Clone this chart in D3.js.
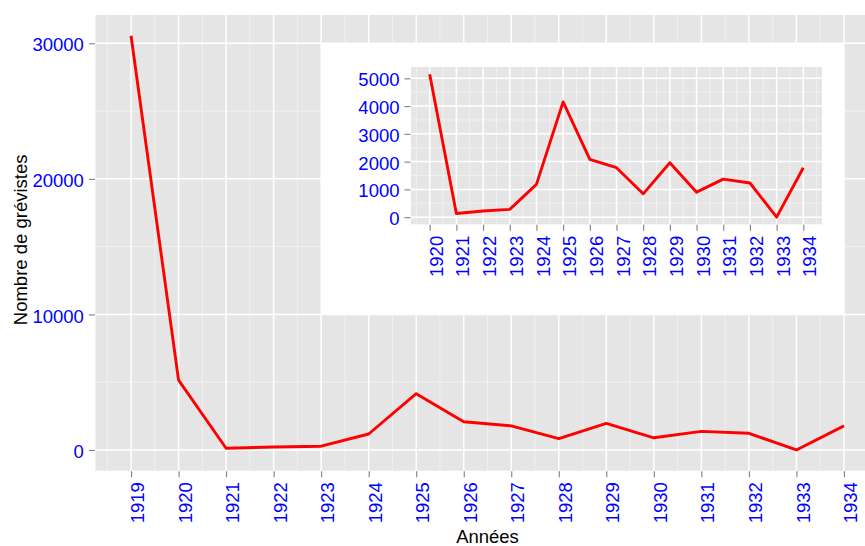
<!DOCTYPE html>
<html>
<head>
<meta charset="utf-8">
<script src="https://cdn.jsdelivr.net/npm/d3@7"></script>
<style>
  html, body { margin: 0; padding: 0; background: #ffffff; }
  svg { display: block; }
  text { font-family: "Liberation Sans", Arial, Helvetica, sans-serif; }
</style>
</head>
<body>
<svg id="chart" width="865" height="546"></svg>
<script>
// Nombre de grévistes par année, 1919–1934
const years = [1919, 1920, 1921, 1922, 1923, 1924, 1925, 1926, 1927, 1928, 1929, 1930, 1931, 1932, 1933, 1934];
const strikers = [30560, 5150, 130, 220, 280, 1180, 4150, 2080, 1780, 840, 1960, 900, 1370, 1230, 0, 1780];

const mainYTicks = [0, 10000, 20000, 30000];
const mainYMinor = [5000, 15000, 25000];
const insetYTicks = [0, 1000, 2000, 3000, 4000, 5000];
const insetYMinor = [500, 1500, 2500, 3500, 4500];

const xTitle = "Années";
const yTitle = "Nombre de grévistes";

const data = years.map((y, i) => ({ year: y, value: strikers[i] }));

const FONT = 18.5;
const BG = "#e5e5e5", MAJOR = "#ffffff", MINOR = "#f2f2f2", TICK = "#7f7f7f";
const LABEL = "#0000ff";

const svg = d3.select("#chart");

// 5 % expansion on each side, as in a ggplot continuous scale
function expand(ext, f = 0.05) {
  const p = (ext[1] - ext[0]) * f;
  return [ext[0] - p, ext[1] + p];
}

// Draws one grey panel with grid, ticks, labels and the red line
function drawPanel(g, rows, x, y, xTicks, yTicks, yMinor) {
  const [x0, x1] = x.range();
  const [y1, y0] = y.range();
  const [dx0, dx1] = x.domain();
  const xMinor = d3.range(xTicks[0] - 0.5, xTicks[xTicks.length - 1] + 1, 1)
    .filter(v => v > dx0 && v < dx1);

  g.append("rect")
    .attr("x", x0).attr("y", y0)
    .attr("width", x1 - x0).attr("height", y1 - y0)
    .attr("fill", BG);

  // minor grid
  g.selectAll(null).data(yMinor).join("line")
    .attr("x1", x0).attr("x2", x1)
    .attr("y1", d => y(d)).attr("y2", d => y(d))
    .attr("stroke", MINOR).attr("stroke-width", 0.9);
  g.selectAll(null).data(xMinor).join("line")
    .attr("y1", y0).attr("y2", y1)
    .attr("x1", d => x(d)).attr("x2", d => x(d))
    .attr("stroke", MINOR).attr("stroke-width", 0.9);

  // major grid
  g.selectAll(null).data(yTicks).join("line")
    .attr("x1", x0).attr("x2", x1)
    .attr("y1", d => y(d)).attr("y2", d => y(d))
    .attr("stroke", MAJOR).attr("stroke-width", 1.5);
  g.selectAll(null).data(xTicks).join("line")
    .attr("y1", y0).attr("y2", y1)
    .attr("x1", d => x(d)).attr("x2", d => x(d))
    .attr("stroke", MAJOR).attr("stroke-width", 1.5);

  // y axis ticks + labels
  const ya = d3.axisLeft(y).tickValues(yTicks).tickSize(6).tickPadding(5)
    .tickFormat(d3.format("d"));
  const yg = g.append("g").attr("transform", `translate(${x0 - 0.5},0)`).call(ya);
  yg.select(".domain").remove();
  yg.selectAll(".tick line").attr("stroke", TICK).attr("stroke-width", 1.1);
  yg.selectAll(".tick text")
    .attr("fill", LABEL).attr("font-size", FONT)
    .attr("font-family", "Liberation Sans, Arial, sans-serif")
    .attr("dy", "0.41em");

  // x axis ticks + rotated labels
  const xa = d3.axisBottom(x).tickValues(xTicks).tickSize(6)
    .tickFormat(d3.format("d"));
  const xg = g.append("g").attr("transform", `translate(0,${y1 + 0.5})`).call(xa);
  xg.select(".domain").remove();
  xg.selectAll(".tick line").attr("stroke", TICK).attr("stroke-width", 1.1);
  xg.selectAll(".tick text")
    .attr("fill", LABEL).attr("font-size", FONT)
    .attr("font-family", "Liberation Sans, Arial, sans-serif")
    .attr("text-anchor", "end")
    .attr("transform", "translate(0,11) rotate(-90)")
    .attr("x", 0).attr("y", 0)
    .attr("dy", "0.68em");

  // series line
  g.append("path")
    .datum(rows)
    .attr("fill", "none")
    .attr("stroke", "#ff0000")
    .attr("stroke-width", 2.9)
    .attr("stroke-linejoin", "round")
    .attr("d", d3.line().x(d => x(d.year)).y(d => y(d.value)));
}

// ---- main plot (1919–1934) ----
const xMain = d3.scaleLinear()
  .domain(expand(d3.extent(years)))
  .range([95.4, 879.6]);
const yMain = d3.scaleLinear()
  .domain(expand(d3.extent(strikers)))
  .range([470.7, 15]);

const main = svg.append("g");
drawPanel(main, data, xMain, yMain, years, mainYTicks, mainYMinor);

// axis titles
svg.append("text")
  .attr("x", (xMain.range()[0] + xMain.range()[1]) / 2)
  .attr("y", 543)
  .attr("text-anchor", "middle")
  .attr("font-size", FONT)
  .attr("fill", "#000")
  .text(xTitle);

svg.append("text")
  .attr("transform", `translate(26.7,${(yMain.range()[0] + yMain.range()[1]) / 2 - 3}) rotate(-90)`)
  .attr("text-anchor", "middle")
  .attr("font-size", FONT)
  .attr("fill", "#000")
  .text(yTitle);

// ---- inset (1920–1934), placed over the main panel ----
const insetData = data.filter(d => d.year >= 1920);
const insetYears = insetData.map(d => d.year);

svg.append("rect")
  .attr("x", xMain(1923))
  .attr("y", yMain(30000))
  .attr("width", xMain(1934) - xMain(1923))
  .attr("height", yMain(10000) - yMain(30000))
  .attr("fill", "#ffffff");

const xInset = d3.scaleLinear()
  .domain(expand(d3.extent(insetYears)))
  .range([411, 822]);
const yInset = d3.scaleLinear()
  .domain(expand(d3.extent(insetData, d => d.value)))
  .range([224.3, 67]);

const inset = svg.append("g");
drawPanel(inset, insetData, xInset, yInset, insetYears, insetYTicks, insetYMinor);
</script>
</body>
</html>
